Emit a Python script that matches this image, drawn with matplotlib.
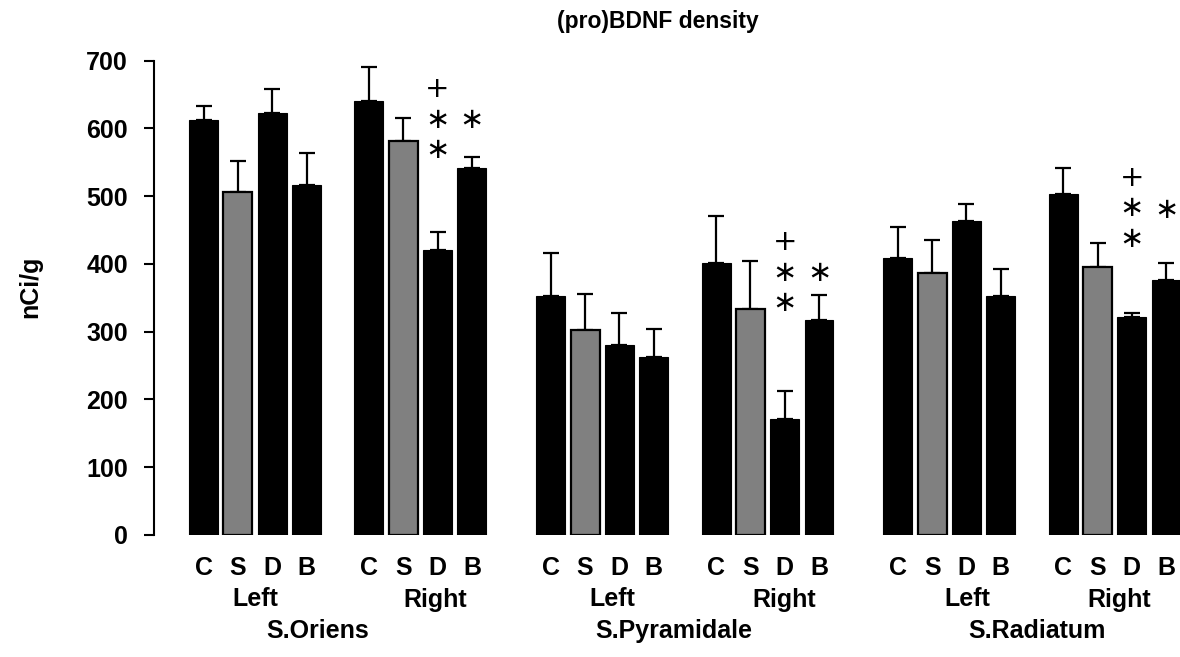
import matplotlib
matplotlib.use("Agg")
import matplotlib.pyplot as plt
import matplotlib.transforms as mtransforms
import numpy as np

# ---------------- data ----------------
regions = ["S.Oriens", "S.Pyramidale", "S.Radiatum"]
sides = ["Left", "Right"]
treatments = ["C", "S", "D", "B"]

# mean values (nCi/g), order: region -> side -> treatment
oriens_left = [612, 506, 623, 517]
oriens_right = [641, 582, 420, 541]
pyramidale_left = [353, 302, 280, 262]
pyramidale_right = [401, 333, 171, 318]
radiatum_left = [409, 387, 463, 353]
radiatum_right = [504, 395, 321, 377]

# upper error bars (SEM)
oriens_left_err = [21, 46, 35, 47]
oriens_right_err = [49, 33, 27, 17]
pyramidale_left_err = [63, 53, 47, 42]
pyramidale_right_err = [70, 72, 41, 36]
radiatum_left_err = [46, 48, 26, 40]
radiatum_right_err = [38, 36, 7, 24]

# significance marks on the Right side: (region index, treatment index, label, y value)
marks = [
    (0, 2, "+\n\u2217\n\u2217", 613), (0, 3, "\u2217", 613),
    (1, 2, "+\n\u2217\n\u2217", 387), (1, 3, "\u2217", 387),
    (2, 2, "+\n\u2217\n\u2217", 482), (2, 3, "\u2217", 480),
]

values = [[oriens_left, oriens_right],
          [pyramidale_left, pyramidale_right],
          [radiatum_left, radiatum_right]]
errors = [[oriens_left_err, oriens_right_err],
          [pyramidale_left_err, pyramidale_right_err],
          [radiatum_left_err, radiatum_right_err]]

# ---------------- layout ----------------
W, H = 1180, 657
PX0, UNIT = 203.65, 34.3          # pixel of first bar centre, px per slot
REGION_STEP, SIDE_STEP = 10.12, 4.82
BAR_W = 0.845


def px2x(px):
    return (px - PX0) / UNIT


plt.rcParams["font.family"] = ["Liberation Sans", "DejaVu Sans"]
plt.rcParams["font.weight"] = "bold"

fig = plt.figure(figsize=(W / 100, H / 100), dpi=100)
ax_left, ax_right = 154 / W, 1180 / W
ax_bottom, ax_top = 1 - 535 / H, 1 - 60.7 / H
ax = fig.add_axes([ax_left, ax_bottom, ax_right - ax_left, ax_top - ax_bottom])

colors = ["black", "#808080", "black", "black"]
edge_lw = [0.8, 1.6, 0.8, 0.8]

for r in range(len(regions)):
    for s in range(len(sides)):
        x0 = r * REGION_STEP + s * SIDE_STEP
        xs = x0 + np.arange(len(treatments))
        ax.bar(xs, values[r][s], width=BAR_W, color=colors,
               edgecolor="black", linewidth=edge_lw, zorder=2)
        ax.errorbar(xs, values[r][s],
                    yerr=[np.zeros(len(treatments)), errors[r][s]],
                    fmt="none", ecolor="black", elinewidth=1.6,
                    capsize=5.6, capthick=1.6, zorder=1)

# significance symbols
for r, t, sym, yv in marks:
    x = r * REGION_STEP + SIDE_STEP + t
    ax.text(x, yv, sym, ha="center", va="center", fontsize=21,
            fontweight="normal", family=["DejaVu Sans"], linespacing=1.12)

ax.set_xlim(px2x(154), px2x(1180))
ax.set_ylim(0, 700)
ax.set_yticks(np.arange(0, 701, 100))
ax.tick_params(axis="y", direction="out", length=7.2, width=1.5,
               pad=11.5, labelsize=18)
for lab in ax.get_yticklabels():
    lab.set_fontweight("bold")
ax.set_xticks([])
for sp in ["top", "right", "bottom"]:
    ax.spines[sp].set_visible(False)
ax.spines["left"].set_linewidth(1.5)

# category labels below the axis
blend = mtransforms.blended_transform_factory(ax.transData, fig.transFigure)
left_label_px = [255, 612, 967]
right_label_px = [435.5, 784, 1119]
region_label_px = [318, 674, 1037]
for r in range(len(regions)):
    for s in range(len(sides)):
        x0 = r * REGION_STEP + s * SIDE_STEP
        for t, lab in enumerate(treatments):
            fig.text(x0 + t, 1 - 575 / H, lab, transform=blend,
                     ha="center", va="baseline", fontsize=18, fontweight="bold")
    fig.text(px2x(left_label_px[r]), 1 - 606.5 / H, sides[0], transform=blend,
             ha="center", va="baseline", fontsize=18, fontweight="bold")
    fig.text(px2x(right_label_px[r]), 1 - 606.5 / H, sides[1], transform=blend,
             ha="center", va="baseline", fontsize=18, fontweight="bold")
    fig.text(px2x(region_label_px[r]), 1 - 638 / H, regions[r], transform=blend,
             ha="center", va="baseline", fontsize=18, fontweight="bold")

fig.text(30 / W, 1 - 286.5 / H, "nCi/g", rotation=90, ha="center",
         va="center", fontsize=18, fontweight="bold")
fig.text(658 / W, 1 - 28 / H, "(pro)BDNF density", ha="center",
         va="baseline", fontsize=16.5, fontweight="bold")

fig.savefig("out.png", dpi=100)
